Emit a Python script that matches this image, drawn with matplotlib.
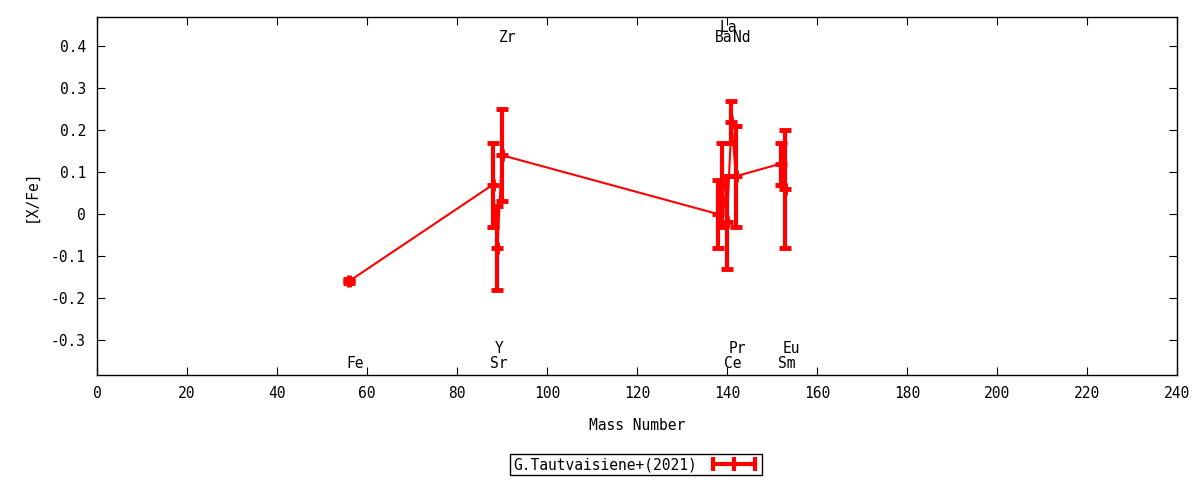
import matplotlib
matplotlib.use('Agg')
import matplotlib.pyplot as plt
from matplotlib.lines import Line2D

plt.rcParams['font.family'] = ['DejaVu Sans Mono']

elements = ['Fe', 'Sr', 'Y', 'Zr', 'Ba', 'La', 'Ce', 'Pr', 'Nd', 'Sm', 'Eu']
mass = [56, 88, 89, 90, 138, 139, 140, 141, 142, 152, 153]
xfe = [-0.16, 0.07, -0.08, 0.14, 0.00, 0.07, -0.02, 0.22, 0.09, 0.12, 0.06]
err = [0.005, 0.10, 0.10, 0.11, 0.08, 0.10, 0.11, 0.05, 0.12, 0.05, 0.14]

# where the element names sit: top/bottom row, and a raised level when crowded
label_side = ['bot', 'bot', 'bot', 'top', 'top', 'top', 'bot', 'bot', 'top', 'bot', 'bot']
label_up = [0, 0, 1, 0, 0, 1, 0, 1, 0, 0, 1]

fig = plt.figure(figsize=(12, 4.8), dpi=100)
ax = fig.add_axes([0.0808, 0.2188, 0.9, 0.7458])

red = '#ff0000'
ax.errorbar(mass, xfe, yerr=err, color=red, lw=1.5, elinewidth=3, capsize=4,
            capthick=3, marker='+', ms=9, mew=3.5)

for el, m, side, up in zip(elements, mass, label_side, label_up):
    if side == 'top':
        y = 0.42 + 0.024 * up
    else:
        y = -0.355 + 0.034 * up
    ax.text(m - 0.6, y, el, ha='left', va='center', fontsize=10.5)

ax.set_xlim(0, 240)
ax.set_ylim(-0.383, 0.469)
ax.set_xticks(range(0, 241, 20))
yt = [-0.3, -0.2, -0.1, 0, 0.1, 0.2, 0.3, 0.4]
ax.set_yticks(yt)
ax.set_yticklabels(['0' if v == 0 else f'{v:g}' for v in yt])
ax.tick_params(direction='in', top=True, right=True, length=6, labelsize=10.5, pad=8)
for s in ax.spines.values():
    s.set_linewidth(1)

ax.set_xlabel('Mass Number', fontsize=10.5, labelpad=12)
ax.set_ylabel('[X/Fe]', fontsize=10.5, labelpad=9)

proxy = Line2D([], [], color=red, lw=3, marker='|', ms=10, mew=3)
leg = fig.legend([proxy], ['G.Tautvaisiene+(2021)'], loc='center',
                 bbox_to_anchor=(0.53, 0.032), numpoints=3, markerfirst=False,
                 fancybox=False, edgecolor='black', fontsize=10.5,
                 handlelength=3.5, borderpad=0.2, borderaxespad=0,
                 handletextpad=0.8, framealpha=1)
leg.get_frame().set_linewidth(1)

fig.savefig('out.png', dpi=100)
